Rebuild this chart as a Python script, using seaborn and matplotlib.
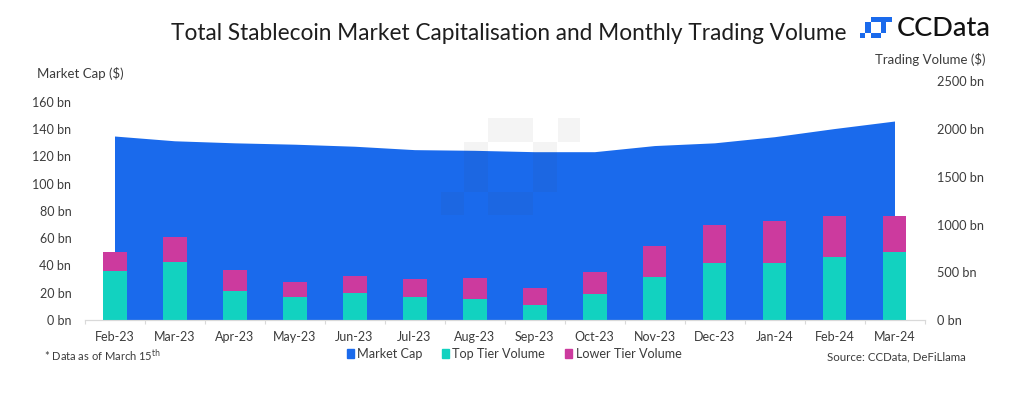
import matplotlib
matplotlib.use('Agg')
import matplotlib.pyplot as plt
import seaborn as sns
from matplotlib.patches import Rectangle
from matplotlib.ticker import FixedLocator

months = ['Feb-23', 'Mar-23', 'Apr-23', 'May-23', 'Jun-23', 'Jul-23', 'Aug-23',
          'Sep-23', 'Oct-23', 'Nov-23', 'Dec-23', 'Jan-24', 'Feb-24', 'Mar-24']
market_cap = [135, 131.5, 130, 129, 127.5, 125, 124.5, 123.5, 123.5, 128, 130, 134.5, 140.5, 146]
top_tier = [514, 611, 304, 238, 283, 241, 223, 154, 269, 454, 594, 601, 657, 716]
total_volume = [713, 873, 524, 401, 461, 427, 443, 332, 500, 779, 996, 1038, 1090, 1093]
cap_ticks = [0, 20, 40, 60, 80, 100, 120, 140, 160]
volume_ticks = [0, 500, 1000, 1500, 2000, 2500]

BLUE = '#1a6aec'
TEAL = '#12d2c0'
MAGENTA = '#cc3a9e'
TEXT = '#3c3c3c'
W, H = 1024, 393

sns.set_theme(style='white')
plt.rcParams['font.family'] = ['Lato', 'DejaVu Sans']

fig = plt.figure(figsize=(W / 100, H / 100), dpi=100)
ax = fig.add_axes([84.5 / W, (H - 320) / H, 840 / W, 238.5 / H])


def px_rect(x0, y0, x1, y1, **kw):
    # box given in image pixels, y measured from the top
    return Rectangle((x0 / W, (H - y1) / H), (x1 - x0) / W, (y1 - y0) / H,
                     transform=fig.transFigure, clip_on=False, linewidth=0, **kw)


# market cap area, left axis
positions = list(range(len(months)))
ax.fill_between(positions, market_cap, color=BLUE, linewidth=0)
ax.set_ylim(0, 175)

# faint watermark over the area
watermark = [(487.7, 118.3, 533.3, 141.7), (557.7, 118.3, 580, 141.7),
             (464.3, 141.7, 487.7, 191.7), (533.3, 141.7, 557.3, 191.7),
             (441, 191.7, 464.3, 215), (487.7, 191.7, 533.3, 215)]
for box in watermark:
    ax.add_patch(px_rect(*box, color='#444444', alpha=0.06))

# stacked volume bars, right axis
ax2 = ax.twinx()
sns.barplot(x=months, y=total_volume, color=MAGENTA, saturation=1, width=0.4, linewidth=0, ax=ax2)
sns.barplot(x=months, y=top_tier, color=TEAL, saturation=1, width=0.4, linewidth=0, ax=ax2)
ax2.set_ylim(0, 2500)
ax2.set_xlim(-0.5, 13.5)
ax.set_xlim(-0.5, 13.5)
ax2.set_ylabel('')
ax2.set_xlabel('')

ax.set_yticks(cap_ticks)
ax.set_yticklabels([f'{v} bn' for v in cap_ticks], fontsize=9, color=TEXT)
ax.tick_params(axis='y', length=0, pad=9.5)
ax2.set_yticks(volume_ticks)
ax2.set_yticklabels([f'{v} bn' for v in volume_ticks], fontsize=9.2, color=TEXT)
ax2.tick_params(axis='y', length=0, pad=9)

ax.set_xticks(positions)
ax.set_xticklabels(months, fontsize=9, color=TEXT)
ax.xaxis.set_minor_locator(FixedLocator([p - 0.5 for p in positions] + [13.5]))
ax.tick_params(axis='x', which='major', length=0, pad=8)
ax.tick_params(axis='x', which='minor', length=3, width=0.8, color='#d9d9d9', bottom=True)
ax2.tick_params(axis='x', length=0, labelbottom=False)

for a in (ax, ax2):
    for name in ('top', 'left', 'right'):
        a.spines[name].set_visible(False)
    a.spines['bottom'].set_color('#d9d9d9')
    a.spines['bottom'].set_linewidth(0.8)

# texts
fig.text(509 / W, (H - 33) / H, 'Total Stablecoin Market Capitalisation and Monthly Trading Volume',
         fontsize=16.3, color='#1e1e1e', ha='center', va='center')
fig.text(37 / W, (H - 74) / H, 'Market Cap ($)', fontsize=9.5, color=TEXT, va='center')
fig.text(875 / W, (H - 59) / H, 'Trading Volume ($)', fontsize=9.5, color=TEXT, va='center')
fig.text(44 / W, (H - 355.5) / H, '* Data as of March 15$^{\\mathrm{th}}$', fontsize=8, color=TEXT, va='center')
fig.text(827 / W, (H - 357) / H, 'Source: CCData, DeFiLlama', fontsize=8.3, color=TEXT, va='center')

# legend
handles = [Rectangle((0, 0), 1, 1, color=c) for c in (BLUE, TEAL, MAGENTA)]
fig.legend(handles, ['Market Cap', 'Top Tier Volume', 'Lower Tier Volume'],
           loc='center', bbox_to_anchor=(514 / W, (H - 354) / H), ncol=3, frameon=False,
           fontsize=9.1, labelcolor=TEXT, handlelength=0.55, handleheight=0.7,
           handletextpad=0.25, columnspacing=1.6, borderpad=0)

# logo
logo = [(886, 17, 891.7, 21.7), (870.7, 17, 886, 22.3), (865.3, 22.3, 870.7, 32.7),
        (880.7, 22.3, 886, 32.7), (870.7, 32.7, 880.7, 37.7), (860, 32.7, 865.3, 37.7)]
for box in logo:
    fig.add_artist(px_rect(*box, color=BLUE))
fig.text(897 / W, (H - 28.5) / H, 'CCData', fontsize=19.5, color='#111111', va='center', fontweight='medium')

fig.savefig('out.png', dpi=100)
plt.close(fig)
